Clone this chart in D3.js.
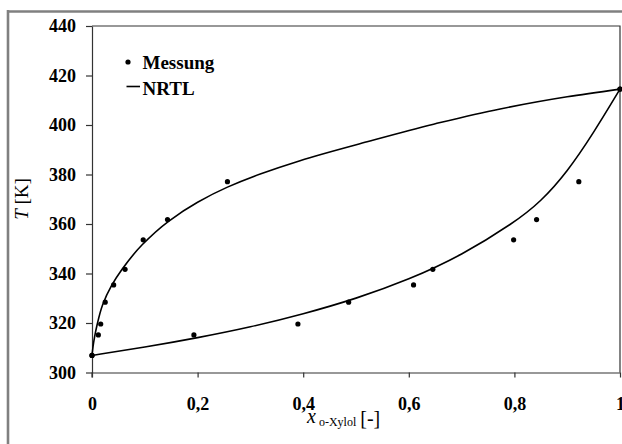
<!DOCTYPE html>
<html>
<head>
<meta charset="utf-8">
<script src="https://cdn.jsdelivr.net/npm/d3@7"></script>
<style>
  body { margin: 0; background: #fff; }
  svg text { font-family: "Liberation Serif", "Times New Roman", serif; }
</style>
</head>
<body>
<div id="chart"></div>
<script>
// Messpunkte (Siedetemperatur, Flüssigkeit / Dampf)
const T_mess = [306.9, 315.2, 319.6, 328.4, 335.4, 341.7, 353.6, 361.8, 377.1, 414.5]
const x_fl = [0, 0.193, 0.39, 0.486, 0.609, 0.6455, 0.7985, 0.842, 0.922, 1]
const y_dampf = [0, 0.012, 0.0165, 0.025, 0.041, 0.0626, 0.097, 0.143, 0.2565, 1]

// NRTL Siedelinie
const nrtl_x = [0, 0.1, 0.2, 0.3, 0.4, 0.5, 0.6, 0.7, 0.8, 0.85, 0.9, 0.95, 1]
const nrtl_Tx = [306.9, 310.2, 314.0, 318.3, 323.6, 329.8, 337.5, 347.3, 360.6, 369.0, 381.0, 396.8, 414.5]
// NRTL Taulinie
const nrtl_y = [0, 0.002, 0.005, 0.010, 0.020, 0.037, 0.057, 0.095, 0.145, 0.2, 0.2565, 0.32, 0.394, 0.521, 0.647, 0.773, 0.9, 1]
const nrtl_Ty = [306.9, 310.5, 314.5, 319.6, 327.3, 335.1, 341.7, 351.6, 361.1, 368.8, 374.9, 380.3, 385.6, 393.2, 400.3, 406.5, 411.4, 414.5]

const xTicks = [0, 0.2, 0.4, 0.6, 0.8, 1]
const xTickLabels = ['0', '0,2', '0,4', '0,6', '0,8', '1']
const yTicks = [300, 320, 340, 360, 380, 400, 420, 440]

const W = 622, H = 444

let svg = d3.select('#chart').append('svg')
  .attr('width', W)
  .attr('height', H)

let x = d3.scaleLinear().domain([0, 1]).range([92, 620])
let y = d3.scaleLinear().domain([300, 440]).range([372.5, 26])

// grauer Rahmen (links und oben)
svg.append('line').attr('x1', 8).attr('y1', 10).attr('x2', 8).attr('y2', H)
  .attr('stroke', '#808080').attr('stroke-width', 2.6)
svg.append('line').attr('x1', 7).attr('y1', 11.5).attr('x2', W).attr('y2', 11.5)
  .attr('stroke', '#808080').attr('stroke-width', 2.6)

// Plotrahmen oben und rechts
svg.append('path')
  .attr('d', `M${x(0)},${y(440)}H${x(1)}V${y(300)}`)
  .attr('fill', 'none').attr('stroke', '#333').attr('stroke-width', 1.2)

// Achsen
let xAxis = svg.append('g')
  .attr('transform', `translate(0,${y(300)})`)
  .call(d3.axisBottom(x).tickValues(xTicks).tickSize(5).tickSizeOuter(0)
    .tickFormat((d, i) => xTickLabels[i]))
xAxis.selectAll('text').attr('y', 37).attr('dy', 0)

let yAxis = svg.append('g')
  .attr('transform', `translate(${x(0)},0)`)
  .call(d3.axisLeft(y).tickValues(yTicks).tickSize(6).tickSizeOuter(0).tickPadding(10))

for (let ax of [xAxis, yAxis]) {
  ax.attr('font-family', '"Liberation Serif", serif')
  ax.select('.domain').attr('stroke', '#333').attr('stroke-width', 1.2)
  ax.selectAll('line').attr('stroke', '#333').attr('stroke-width', 1.2)
  ax.selectAll('text')
    .attr('fill', '#000')
    .style('font-family', '"Liberation Serif", serif')
    .style('font-size', '18px')
    .style('font-weight', 'bold')
}
// y-Achse etwas unter die x-Achse verlängern
svg.append('line').attr('x1', x(0)).attr('x2', x(0)).attr('y1', y(300)).attr('y2', y(300) + 5)
  .attr('stroke', '#333').attr('stroke-width', 1.2)

// NRTL Kurven
let lineTau = d3.line()
  .x(d => x(d[0]))
  .y(d => y(d[1]))
  .curve(d3.curveMonotoneY)   // x als Funktion von T
let lineSiede = d3.line()
  .x(d => x(d[0]))
  .y(d => y(d[1]))
  .curve(d3.curveBasis)

svg.append('path')
  .datum(nrtl_x.map((v, i) => [v, nrtl_Tx[i]]))
  .attr('d', lineSiede)
  .attr('fill', 'none').attr('stroke', '#000').attr('stroke-width', 1.6)

svg.append('path')
  .datum(nrtl_y.map((v, i) => [v, nrtl_Ty[i]]))
  .attr('d', lineTau)
  .attr('fill', 'none').attr('stroke', '#000').attr('stroke-width', 1.6)

// Messpunkte
let punkte = x_fl.map((v, i) => [v, T_mess[i]])
  .concat(y_dampf.map((v, i) => [v, T_mess[i]]))

svg.append('g').selectAll('circle')
  .data(punkte)
  .join('circle')
  .attr('cx', d => x(d[0]))
  .attr('cy', d => y(d[1]))
  .attr('r', 2.6)
  .attr('fill', '#000')

// Legende
let leg = svg.append('g')
leg.append('circle').attr('cx', 128).attr('cy', 62).attr('r', 2.6).attr('fill', '#000')
leg.append('text').attr('x', 142.5).attr('y', 68.5)
  .style('font-size', '19px').style('font-weight', 'bold').text('Messung')
leg.append('line').attr('x1', 126.5).attr('x2', 140).attr('y1', 86.5).attr('y2', 86.5)
  .attr('stroke', '#000').attr('stroke-width', 1.6)
leg.append('text').attr('x', 142.5).attr('y', 94.5)
  .style('font-size', '19px').style('font-weight', 'bold').text('NRTL')

// Achsentitel
let xt = svg.append('text').attr('x', 307).attr('y', 422.5).style('font-size', '20px')
xt.append('tspan').style('font-style', 'italic').text('x')
xt.append('tspan').attr('dx', 3).attr('dy', 3).style('font-size', '12px').text('o-Xylol')
xt.append('tspan').attr('dx', 4).attr('dy', -1).text('[-]')

let yt = svg.append('text')
  .attr('transform', 'translate(27.5,199) rotate(-90)')
  .attr('text-anchor', 'middle')
  .style('font-size', '19px')
yt.append('tspan').style('font-style', 'italic').text('T')
yt.append('tspan').text('  [K]')
</script>
</body>
</html>
